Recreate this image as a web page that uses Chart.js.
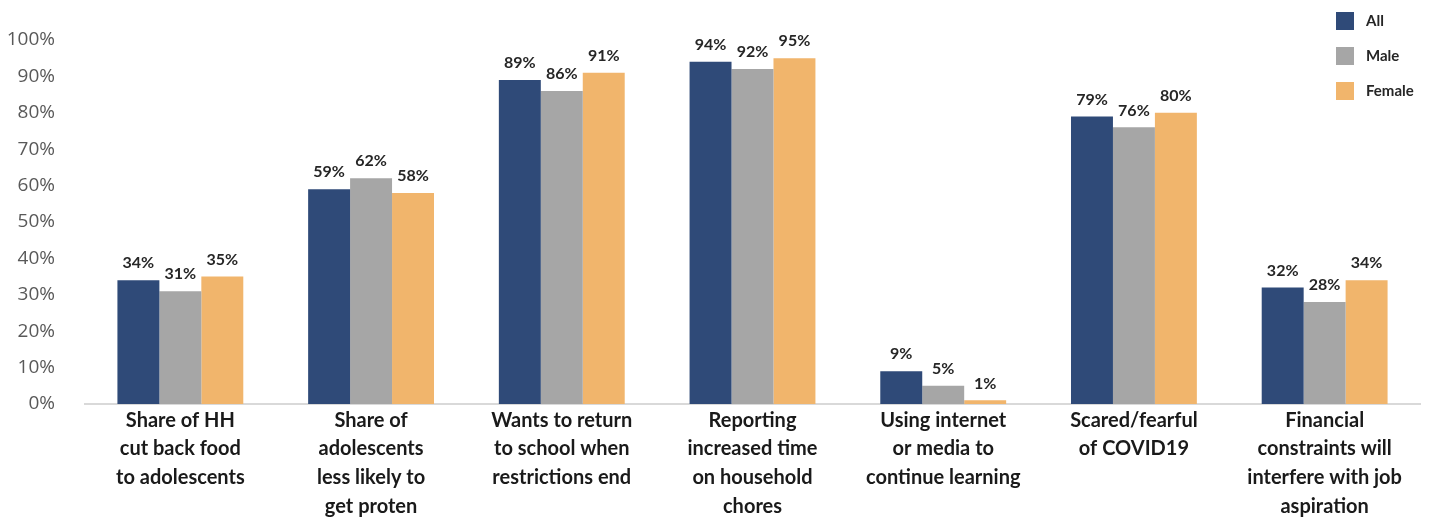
<!DOCTYPE html>
<html>
<head>
<meta charset="utf-8">
<script src="https://cdn.jsdelivr.net/npm/chart.js@4/dist/chart.umd.min.js"></script>
<style>
  html, body { margin: 0; padding: 0; background: #fff; }
  #wrap { width: 1433px; height: 519px; position: relative; }
</style>
</head>
<body>
<div id="wrap"><canvas id="barChart"></canvas></div>
<script>
// categories (multi-line labels) and series values in percent
const categories = [
    ['Share of HH', 'cut back food', 'to adolescents'],
    ['Share of', 'adolescents', 'less likely to', 'get proten'],
    ['Wants to return', 'to school when', 'restrictions end'],
    ['Reporting', 'increased time', 'on household', 'chores'],
    ['Using internet', 'or media to', 'continue learning'],
    ['Scared/fearful', 'of COVID19'],
    ['Financial', 'constraints will', 'interfere with job', 'aspiration']
];
const allValues = [34, 59, 89, 94, 9, 79, 32];
const maleValues = [31, 62, 86, 92, 5, 76, 28];
const femaleValues = [35, 58, 91, 95, 1, 80, 34];
const seriesNames = ['All', 'Male', 'Female'];
const seriesColors = ['#2f4a78', '#a6a6a6', '#f1b56c'];
const yTicks = [0, 10, 20, 30, 40, 50, 60, 70, 80, 90, 100];

const labelFont = 'Lato, "Open Sans", sans-serif';

// value labels above each bar
const valueLabels = {
    id: 'valueLabels',
    afterDatasetsDraw(chart) {
        const ctx = chart.ctx;
        ctx.save();
        ctx.font = 'bold 16px ' + labelFont;
        ctx.fillStyle = '#262626';
        ctx.textAlign = 'center';
        ctx.textBaseline = 'bottom';
        chart.data.datasets.forEach((ds, i) => {
            chart.getDatasetMeta(i).data.forEach((bar, j) => {
                ctx.fillText(ds.data[j] + '%', bar.x, bar.y - 9);
            });
        });
        ctx.restore();
    }
};

// vertical legend in the top right corner, over the plot
const cornerLegend = {
    id: 'cornerLegend',
    afterDraw(chart) {
        const ctx = chart.ctx;
        ctx.save();
        ctx.font = 'bold 15px ' + labelFont;
        ctx.textBaseline = 'middle';
        chart.data.datasets.forEach((ds, i) => {
            const y = 21 + i * 35;
            ctx.fillStyle = ds.backgroundColor;
            ctx.fillRect(1336, y - 9, 18, 18);
            ctx.fillStyle = '#262626';
            ctx.fillText(ds.label, 1366, y);
        });
        ctx.restore();
    }
};

const ctx = document.getElementById('barChart').getContext('2d');
new Chart(ctx, {
    type: 'bar',
    data: {
        labels: categories,
        datasets: [allValues, maleValues, femaleValues].map((vals, i) => ({
            label: seriesNames[i],
            data: vals,
            backgroundColor: seriesColors[i],
            borderWidth: 0,
            barPercentage: 1,
            categoryPercentage: 0.66
        }))
    },
    options: {
        responsive: true,
        maintainAspectRatio: false,
        animation: false,
        layout: { padding: { left: 4, right: 13, top: 40, bottom: 0 } },
        plugins: {
            legend: { display: false },
            tooltip: { enabled: false }
        },
        scales: {
            x: {
                grid: { display: false, tickLength: 0 },
                border: { display: true, color: '#d9d9d9', width: 2 },
                afterFit: (axis) => { axis.height = 115; },
                ticks: {
                    color: '#1a1a1a',
                    font: { family: labelFont, size: 20, weight: 'bold', lineHeight: 1.43 },
                    maxRotation: 0,
                    autoSkip: false,
                    padding: 2
                }
            },
            y: {
                min: 0,
                max: 100,
                afterBuildTicks: (axis) => { axis.ticks = yTicks.map(v => ({ value: v })); },
                afterFit: (axis) => { axis.width = 81; },
                grid: { display: false },
                border: { display: false },
                ticks: {
                    color: '#595959',
                    font: { family: '"Open Sans", sans-serif', size: 19 },
                    padding: 22,
                    callback: v => v + '%'
                }
            }
        }
    },
    plugins: [valueLabels, cornerLegend]
});
</script>
</body>
</html>
